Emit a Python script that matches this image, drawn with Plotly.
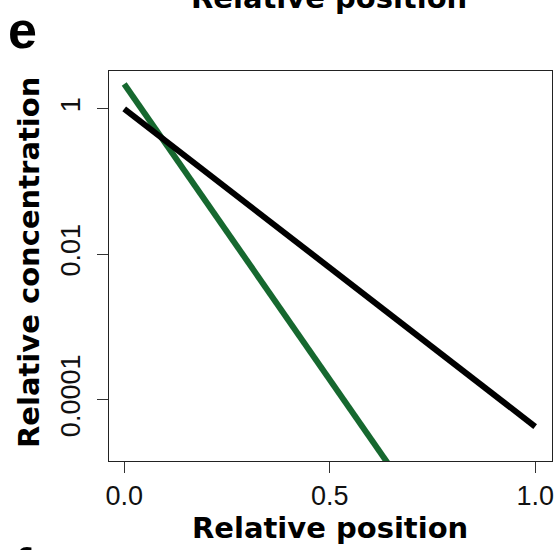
import plotly.graph_objects as go

# Data (relative position vs relative concentration, log scale)
black_x = [0.0, 1.0]
black_y = [1.0, 4.3e-5]
green_x = [0.0, 0.70]
green_y = [2.2, 4.5e-6]

x_tickvals = [0.0, 0.5, 1.0]
x_ticktext = ["0.0", "0.5", "1.0"]
y_tickvals = [1, 0.01, 0.0001]
y_ticktext = ["1", "0.01", "0.0001"]

FONT = "Liberation Sans, Arial, Helvetica, sans-serif"
TFONT = "DejaVu Sans, Liberation Sans, Arial, sans-serif"
LFONT = "Liberation Sans, Arial, sans-serif"

L, R, T, B = 109, 6, 71, 89
W, H = 558, 550
PW, PH = W - L - R, H - T - B


def px(xp):
    return (xp - L) / PW


def py(yp):
    return (H - B - yp) / PH


fig = go.Figure()
fig.add_trace(go.Scatter(x=green_x, y=green_y, mode="lines",
                         line=dict(color="#16682f", width=6), showlegend=False))
fig.add_trace(go.Scatter(x=black_x, y=black_y, mode="lines",
                         line=dict(color="#000000", width=6), showlegend=False))

fig.update_layout(
    width=W, height=H,
    margin=dict(l=L, r=R, t=T, b=B, autoexpand=False),
    paper_bgcolor="white", plot_bgcolor="white",
    font=dict(family=FONT, color="black"),
    xaxis=dict(range=[-0.037, 1.041], tickvals=x_tickvals, ticktext=x_ticktext,
               ticks="outside", ticklen=11, tickwidth=1, tickcolor="#333",
               showline=True, linecolor="#222", linewidth=1, mirror=True,
               showgrid=False, zeroline=False, automargin=False,
               tickfont=dict(size=27, family=FONT, color="#111")),
    yaxis=dict(type="log", range=[-4.84, 0.52], tickvals=y_tickvals, ticktext=y_ticktext,
               ticks="outside", ticklen=11, tickwidth=1, tickcolor="#333",
               showline=True, linecolor="#222", linewidth=1, mirror=True,
               showgrid=False, zeroline=False, tickangle=-90, automargin=False,
               ticklabelstandoff=6,
               tickfont=dict(size=27, family=FONT, color="#111")),
)

# axis titles
fig.add_annotation(text="<b>Relative position</b>", xref="paper", yref="paper",
                   x=px(330), y=py(528), xanchor="center", yanchor="middle", showarrow=False,
                   font=dict(size=29, family=TFONT, color="black"))
fig.add_annotation(text="<b>Relative concentration</b>", xref="paper", yref="paper",
                   x=px(29), y=py(263), xanchor="center", yanchor="middle", showarrow=False,
                   textangle=-90, font=dict(size=29, family=TFONT, color="black"))

# cut-off title of the panel above, and panel letters
fig.add_annotation(text="<b>Relative position</b>", xref="paper", yref="paper",
                   x=px(329), y=py(17), xanchor="center", yanchor="bottom", showarrow=False,
                   font=dict(size=29, family=TFONT, color="black"))
fig.add_annotation(text="<b>e</b>", xref="paper", yref="paper",
                   x=px(6), y=py(30), xanchor="left", yanchor="middle",
                   showarrow=False, font=dict(size=52, family=LFONT, color="black"))
fig.add_annotation(text="<b>f</b>", xref="paper", yref="paper",
                   x=px(12), y=py(536), xanchor="left", yanchor="top",
                   showarrow=False, font=dict(size=52, family=LFONT, color="black"))

fig.write_html("out.html", config={"displayModeBar": False},
               post_script="document.body.style.margin='0';document.body.style.overflow='hidden';")
